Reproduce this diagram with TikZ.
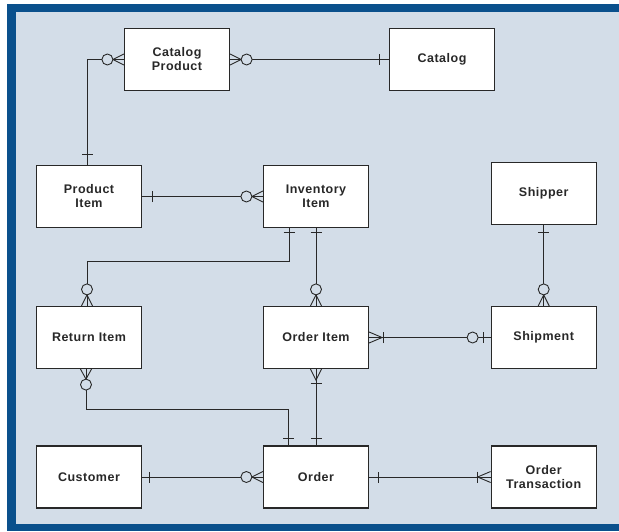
\documentclass[tikz,border=0pt]{standalone}
\usepackage{fontspec}
\setmainfont{Liberation Sans}[LetterSpace=4]
\usetikzlibrary{calc}
\definecolor{frameblue}{RGB}{10,80,140}
\definecolor{bgc}{RGB}{211,221,232}
\definecolor{ink}{RGB}{40,40,40}
\tikzset{
  ent/.style={draw=ink, line width=1.2pt, fill=white, minimum width=105pt, minimum height=62pt,
    inner sep=0pt, align=center, font=\fontsize{12.5}{14}\selectfont\bfseries, text=ink},
  conn/.style={draw=ink, line width=0.9pt},
}
\newcommand\ERcrow[3]{\draw[conn,shift={#1},rotate=#2] (0,5.5) -- (#3,0) -- (0,-5.5);}
\newcommand\ERbar[3]{\draw[conn,shift={#1},rotate=#2] (#3,5.5) -- (#3,-5.5);}
\newcommand\ERcirc[3]{\draw[conn,fill=bgc,shift={#1},rotate=#2] (#3,0) circle[radius=5.5];}
\begin{document}
\begin{tikzpicture}[x=1pt,y=-1pt]
\useasboundingbox (0,0) rectangle (619,531);
\fill[white] (0,0) rectangle (619,531);
\fill[frameblue] (7,4) rectangle (619,531);
\fill[bgc] (16,12) rectangle (619,524);

\node[ent] (cp) at (177,59.5) {Catalog\\Product};
\node[ent] (cat) at (442,59.5) {Catalog};
\node[ent] (pi) at (89,196.5) {Product\\Item};
\node[ent] (ii) at (316,196.5) {Inventory\\Item};
\node[ent] (shr) at (543.7,193.5) {Shipper};
\node[ent] (ri) at (89,337.5) {Return Item};
\node[ent] (oi) at (316,337.5) {Order Item};
\node[ent] (shm) at (543.7,337.5) {Shipment};
\node[ent] (cu) at (89,477) {Customer};
\node[ent] (or) at (316,477) {Order};
\node[ent] (ot) at (543.7,477) {Order\\Transaction};

\coordinate (pin) at ($(pi.north)+(-2,0)$);
\coordinate (iib) at ($(ii.south)+(-27,0)$);
\coordinate (rit) at ($(ri.north)+(-2,0)$);
\coordinate (rib) at ($(ri.south)+(-3,0)$);
\coordinate (ort) at ($(or.north)+(-28,0)$);

% 1 Catalog Product - Catalog
\draw[conn] (cp.east) -- (cat.west);
\ERcrow{(cp.east)}{0}{11}
\ERcirc{(cp.east)}{0}{16.5}
\ERbar{(cat.west)}{180}{9.5}
% 2 Catalog Product - Product Item
\draw[conn] (cp.west) -| (pin);
\ERcrow{(cp.west)}{180}{11}
\ERcirc{(cp.west)}{180}{16.5}
\ERbar{(pin)}{90}{10}
% 3 Product Item - Inventory Item
\draw[conn] (pi.east) -- (ii.west);
\ERbar{(pi.east)}{0}{10}
\ERcrow{(ii.west)}{180}{11}
\ERcirc{(ii.west)}{180}{16.5}
% 4 Inventory Item - Return Item
\draw[conn] (iib) |- ($(rit)+(0,-44)$) -- (rit);
\ERbar{(iib)}{-90}{4.5}
\ERcrow{(rit)}{90}{11}
\ERcirc{(rit)}{90}{16.5}
% 5 Inventory Item - Order Item
\draw[conn] (ii.south) -- (oi.north);
\ERbar{(ii.south)}{-90}{4.5}
\ERcrow{(oi.north)}{90}{11}
\ERcirc{(oi.north)}{90}{16.5}
% 6 Order Item - Shipment
\draw[conn] (oi.east) -- (shm.west);
\ERcrow{(oi.east)}{0}{13}
\ERbar{(oi.east)}{0}{14}
\ERbar{(shm.west)}{180}{7}
\ERcirc{(shm.west)}{180}{18}
% 7 Shipper - Shipment
\draw[conn] (shr.south) -- (shm.north);
\ERbar{(shr.south)}{-90}{7.7}
\ERcrow{(shm.north)}{90}{11}
\ERcirc{(shm.north)}{90}{16.5}
% 8 Return Item - Order
\draw[conn] (rib) |- ($(ort)+(0,-36)$) -- (ort);
\ERcrow{(rib)}{-90}{10}
\ERcirc{(rib)}{-90}{15.5}
\ERbar{(ort)}{90}{6.5}
% 9 Order Item - Order
\draw[conn] (oi.south) -- (or.north);
\ERcrow{(oi.south)}{-90}{11}
\ERbar{(oi.south)}{-90}{14}
\ERbar{(or.north)}{90}{6.5}
% 10 Customer - Order
\draw[conn] (cu.east) -- (or.west);
\ERbar{(cu.east)}{0}{7}
\ERcrow{(or.west)}{180}{11}
\ERcirc{(or.west)}{180}{16.5}
% 11 Order - Order Transaction
\draw[conn] (or.east) -- (ot.west);
\ERbar{(or.east)}{0}{9}
\ERcrow{(ot.west)}{180}{13}
\ERbar{(ot.west)}{180}{13}
\end{tikzpicture}
\end{document}
